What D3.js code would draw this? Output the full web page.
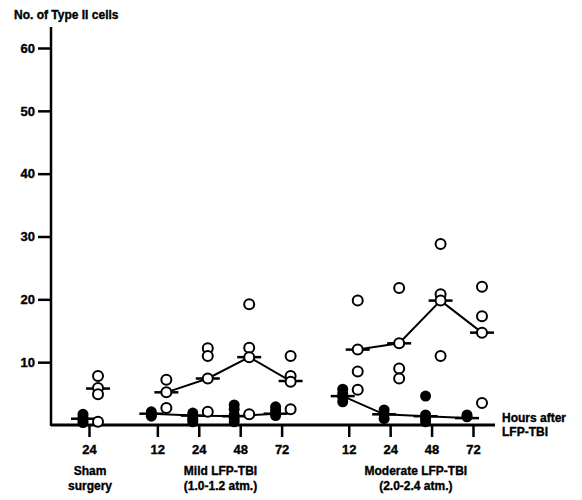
<!DOCTYPE html>
<html>
<head>
<meta charset="utf-8">
<script src="https://cdn.jsdelivr.net/npm/d3@7"></script>
<style>
body{margin:0;background:#fff;}
svg{display:block;font-family:'Liberation Sans',Arial,sans-serif;font-weight:bold;}
svg text{stroke:#000;stroke-width:0.35px;}
</style>
</head>
<body>
<script>
const groupNames=['Sham','Mild LFP-TBI','Moderate LFP-TBI'];
const groupSubs=['surgery','(1.0-1.2 atm.)','(2.0-2.4 atm.)'];
const groupHours=[[24],[12,24,48,72],[12,24,48,72]];
const yTicks=[10,20,30,40,50,60];

// one list per time point: sham 24, mild 12/24/48/72, moderate 12/24/48/72
const openCells=[
    [7.8,5.9,4.9,0.5],
    [7.2,5.2,2.7],
    [12.2,11.0,7.4,2.1],
    [19.2,12.3,10.8,1.7],
    [11.0,7.8,6.9,2.5],
    [19.8,12.0,8.5,5.6],
    [21.8,13.0,9.0,7.4],
    [28.8,20.8,19.8,11.0],
    [22.0,17.3,14.7,3.5]
];
const openMedians=[5.8,5.2,7.4,10.8,7.0,12.0,13.0,19.8,14.7];

const filledCells=[
    [1.7,1.2,0.8,0.4],
    [2.1,1.7,1.4],
    [1.9,1.3,0.9,0.5],
    [3.2,2.5,1.6,1.0,0.5],
    [2.9,2.4,1.9,1.5],
    [5.7,5.0,4.4,3.7],
    [2.4,1.7,1.0],
    [4.6,1.6,1.0,0.5],
    [1.6,1.3]
];
const filledMedians=[1.0,1.8,1.5,1.4,1.8,4.6,1.7,1.4,1.1];

const width=582, height=500;
const baseY=425, axisX=51;
const slotStart=[0,1.65,6.27];   // where each group begins on the slot axis
const half=12;

const cats=groupHours.flatMap((hs,g)=>hs.map((h,i)=>({g:g,h:h,slot:slotStart[g]+i})));
cats.forEach((c,i)=>{c.open=openCells[i];c.filled=filledCells[i];c.om=openMedians[i];c.fm=filledMedians[i];});

const x=d3.scaleLinear().domain([0,9.27]).range([89,473]);
const y=d3.scaleLinear().domain([0,60]).range([baseY,48]);
const xo=c=>x(c.slot)+9;   // open circles sit right of the tick
const xf=c=>x(c.slot)-6;   // filled circles sit left of the tick

const svg=d3.select('body').append('svg').attr('width',width).attr('height',height);

svg.append('text').text('No. of Type II cells')
    .attr('x',14).attr('y',19).style('font-size','12px');

// y axis
const yAxis=d3.axisLeft(y).tickValues(yTicks).tickSize(13).tickPadding(3);
const gy=svg.append('g').attr('transform',`translate(${axisX},0)`).call(yAxis);
gy.select('.domain').remove();
gy.selectAll('line').attr('stroke','#000').attr('stroke-width',2.5);
gy.selectAll('text').style('font-size','13px').attr('fill','#000');
svg.append('line').attr('x1',axisX).attr('x2',axisX).attr('y1',27).attr('y2',baseY+1)
    .attr('stroke','#000').attr('stroke-width',2.5);

// x axis
const xAxis=d3.axisBottom(x).tickValues(cats.map(c=>c.slot))
    .tickFormat((d,i)=>cats[i].h).tickSize(12).tickPadding(8);
const gx=svg.append('g').attr('transform',`translate(0,${baseY})`).call(xAxis);
gx.select('.domain').remove();
gx.selectAll('line').attr('stroke','#000').attr('stroke-width',2.5);
gx.selectAll('text').style('font-size','13px').attr('fill','#000');
svg.append('line').attr('x1',axisX).attr('x2',495).attr('y1',baseY).attr('y2',baseY)
    .attr('stroke','#000').attr('stroke-width',3);

groupNames.forEach((name,g)=>{
    const cs=cats.filter(c=>c.g===g);
    const cx=d3.mean(cs,c=>x(c.slot))+(g===2?5:1);
    svg.append('text').text(name).attr('x',cx).attr('y',475)
        .attr('text-anchor','middle').style('font-size','12px');
    svg.append('text').text(groupSubs[g]).attr('x',cx).attr('y',490)
        .attr('text-anchor','middle').style('font-size','12px');
});

svg.append('text').text('Hours after').attr('x',502).attr('y',422).style('font-size','12px');
svg.append('text').text('LFP-TBI').attr('x',502).attr('y',436).style('font-size','12px');

// median connecting lines within each injury group
[1,2].forEach(g=>{
    const cs=cats.filter(c=>c.g===g);
    svg.append('path').datum(cs)
        .attr('d',d3.line().x(xo).y(c=>y(c.om)))
        .attr('fill','none').attr('stroke','#000').attr('stroke-width',2);
    svg.append('path').datum(cs)
        .attr('d',d3.line().x(xf).y(c=>y(c.fm)))
        .attr('fill','none').attr('stroke','#000').attr('stroke-width',2);
});

// median bars
svg.selectAll('.obar').data(cats).enter().append('line').attr('class','obar')
    .attr('x1',c=>xo(c)-half).attr('x2',c=>xo(c)+half)
    .attr('y1',c=>y(c.om)).attr('y2',c=>y(c.om))
    .attr('stroke','#000').attr('stroke-width',2.5);
svg.selectAll('.fbar').data(cats).enter().append('line').attr('class','fbar')
    .attr('x1',c=>xf(c)-half).attr('x2',c=>xf(c)+half)
    .attr('y1',c=>y(c.fm)).attr('y2',c=>y(c.fm))
    .attr('stroke','#000').attr('stroke-width',2.5);

// points
const openPts=cats.flatMap(c=>c.open.map(v=>({c:c,v:v})));
const filledPts=cats.flatMap(c=>c.filled.map(v=>({c:c,v:v})));

svg.selectAll('.fdot').data(filledPts).enter().append('circle').attr('class','fdot')
    .attr('cx',d=>xf(d.c)).attr('cy',d=>y(d.v)).attr('r',5.5).attr('fill','#000');

svg.selectAll('.odot').data(openPts).enter().append('circle').attr('class','odot')
    .attr('cx',d=>xo(d.c)).attr('cy',d=>y(d.v)).attr('r',5)
    .attr('fill','#fff').attr('stroke','#000').attr('stroke-width',2);
</script>
</body>
</html>
